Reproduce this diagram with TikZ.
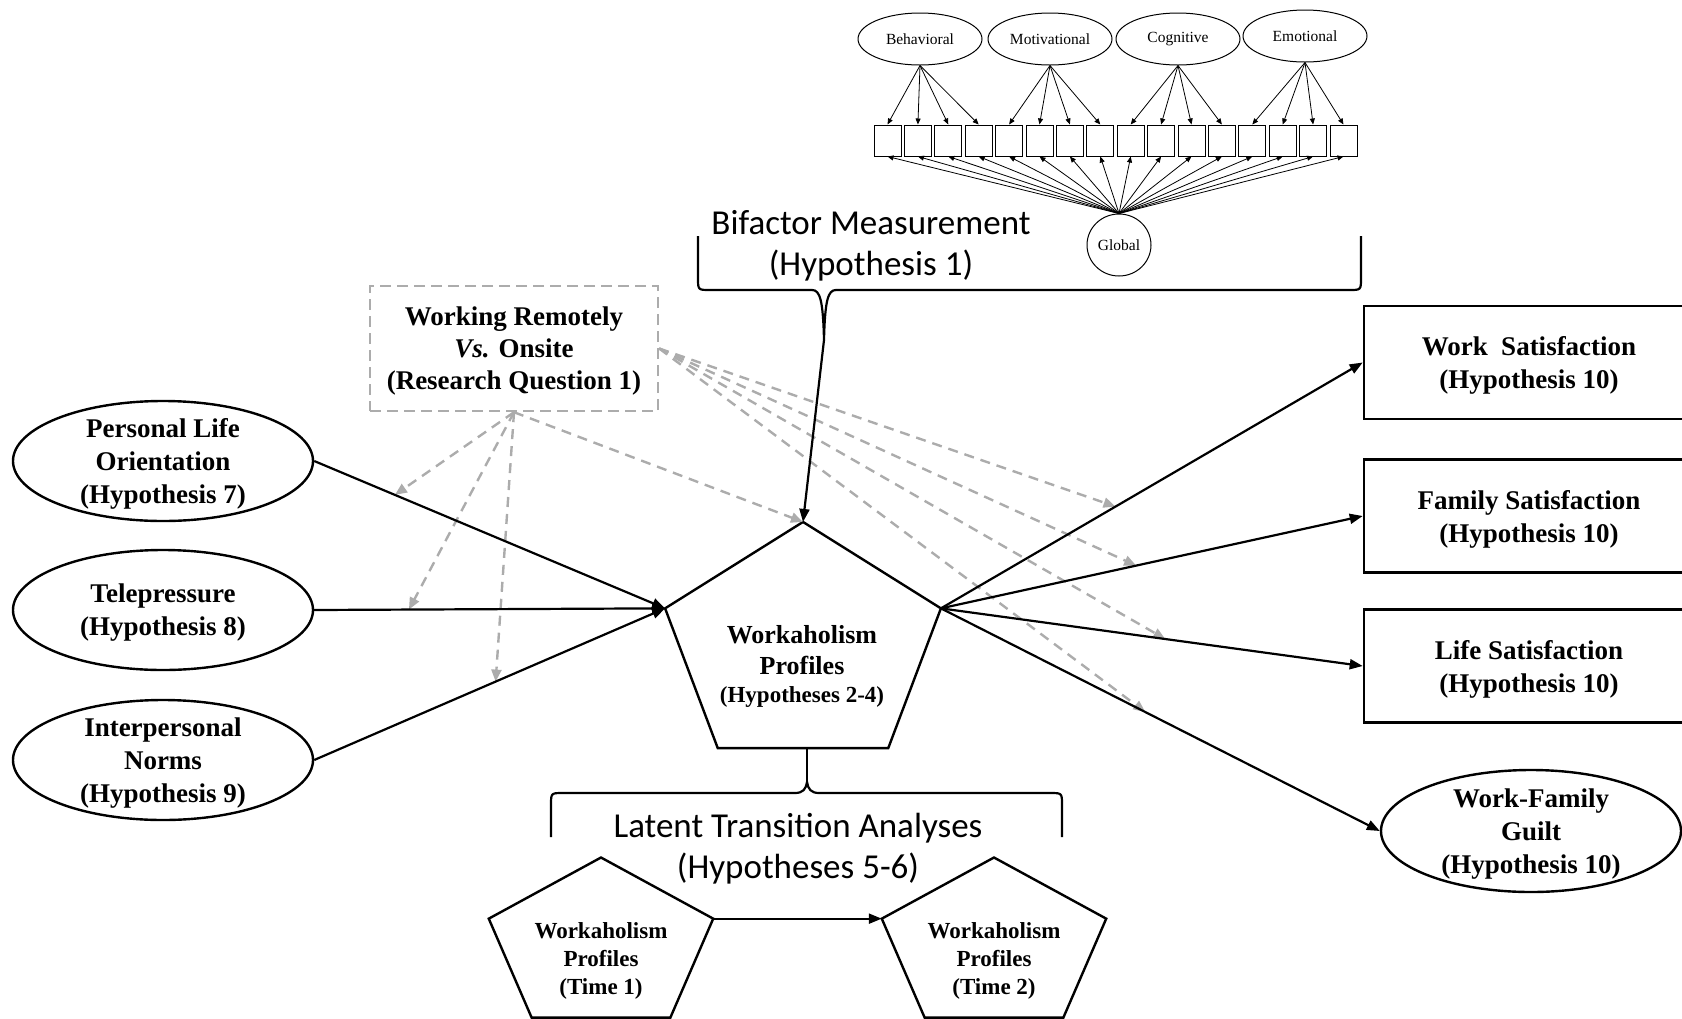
\documentclass[tikz,border=0pt]{standalone}
\usepackage{fontspec}
\setmainfont{Liberation Serif}
\newfontfamily\calibrifont{Carlito}
\usetikzlibrary{arrows.meta,shapes.geometric,positioning}

\tikzset{
  latent/.style={draw, ellipse, line width=2.4pt, minimum width=300pt, minimum height=120pt,
    inner sep=-10pt, align=center, text depth=0pt, font=\bfseries\fontsize{27}{33}\selectfont},
  outcome/.style={draw, rectangle, line width=2.6pt, minimum width=330pt, minimum height=113pt,
    align=center, text depth=0pt, font=\bfseries\fontsize{27}{33}\selectfont},
  moderator/.style={draw=gray!65, dash pattern=on 11pt off 6pt, line width=2.4pt,
    minimum width=288pt, minimum height=125pt, align=center, text depth=0pt,
    font=\bfseries\fontsize{27}{32}\selectfont},
  profile/.style={draw, regular polygon, regular polygon sides=5, line width=2.4pt,
    outer sep=0pt, inner sep=0pt},
  proftext/.style={align=center, text depth=0pt, font=\bfseries\fontsize{26}{31}\selectfont},
  factor/.style={draw, ellipse, line width=1pt, minimum width=124pt, minimum height=52pt,
    inner sep=0pt, font=\fontsize{15.5}{18}\selectfont},
  item/.style={draw, rectangle, line width=1pt, minimum width=27pt, minimum height=31pt, inner sep=0pt},
  effect/.style={->, line width=2.2pt},
  moderate/.style={-{Triangle[length=12pt,width=10pt]}, draw=gray!65, dash pattern=on 10pt off 7pt,
    line width=2.4pt},
  load/.style={-{Triangle[length=6pt,width=5pt]}, line width=0.8pt},
  brace/.style={line width=2.2pt},
  bracelabel/.style={align=center, text depth=0pt, font=\calibrifont\fontsize{35}{41}\selectfont},
}

\begin{document}
\begin{tikzpicture}[x=1pt, y=-1pt, >={Triangle[length=13pt,width=10pt]}]
    \useasboundingbox (0,0) rectangle (1682,1018);

    % bifactor measurement model
    \node[factor] (beh) at (920,39) {Behavioral};
    \node[factor] (mot) at (1050,39) {Motivational};
    \node[factor] (cog) at (1178,39) {Cognitive};
    \node[factor] (emo) at (1305,36) {Emotional};
    \foreach \i in {1,...,16}
        \node[item] (it\i) at ({887.5+30.4*(\i-1)},140.5) {};
    \node[factor, minimum width=64pt, minimum height=62pt] (glob) at (1119,245) {Global};

    \foreach \f/\a in {beh/0, mot/4, cog/8, emo/12}
        \foreach \k in {1,...,4} {
            \pgfmathtruncatemacro\n{\a+\k}
            \draw[load] (\f.south) -- (it\n.north);
        }
    \foreach \i in {1,...,16}
        \draw[load] (glob.north) -- (it\i.south);

    % brace above the profiles
    \coordinate (bftip) at (824,340);
    \draw[brace] (698,236) -- (698,278) .. controls (698,290) .. (710,290) -- (812,290)
        .. controls (820,290) and (823,300) .. (bftip)
        .. controls (825,300) and (828,290) .. (836,290) -- (1349,290)
        .. controls (1361,290) .. (1361,278) -- (1361,236);
    \node[bracelabel] (bflabel) at (871,243) {Bifactor Measurement\\(Hypothesis 1)};

    % predictors
    \node[latent] (plo) at (163,461) {Personal Life\\Orientation\\(Hypothesis 7)};
    \node[latent] (tele) at (163,610) {Telepressure\\(Hypothesis 8)};
    \node[latent] (norm) at (163,760) {Interpersonal\\Norms\\(Hypothesis 9)};

    \node[moderator] (remote) at (514,348.5) {Working Remotely\\\textit{Vs.} Onsite\\(Research Question 1)};

    % profiles
    \node[profile, minimum size=290pt, yscale=0.8625] (wp) at (803,647) {};
    \node[proftext] (wptext) at (802,664)
        {Workaholism\\Profiles\\[-3pt]{\fontsize{23}{28}\selectfont(Hypotheses 2-4)}};

    % outcomes
    \node[outcome] (wsat) at (1529,362.5) {Work\ \ Satisfaction\\(Hypothesis 10)};
    \node[outcome] (fsat) at (1529,516) {Family Satisfaction\\(Hypothesis 10)};
    \node[outcome] (lsat) at (1529,666) {Life Satisfaction\\(Hypothesis 10)};
    \node[latent, minimum height=122pt] (guilt) at (1531,831) {Work-Family\\Guilt\\(Hypothesis 10)};

    % latent transition
    \coordinate (ltatip) at (807,782);
    \draw[brace] (551,837) -- (551,805) .. controls (551,793) .. (563,793) -- (795,793)
        .. controls (803,793) and (806,789) .. (ltatip)
        .. controls (808,789) and (811,793) .. (819,793) -- (1050,793)
        .. controls (1062,793) .. (1062,805) -- (1062,837);
    \draw[brace] (ltatip) -- (ltatip |- wp.south);
    \node[bracelabel] (ltalabel) at (798,846) {Latent Transition Analyses\\(Hypotheses 5-6)};

    \node[profile, minimum size=236pt, yscale=0.75] (wp1) at (601,946) {};
    \node[profile, minimum size=236pt, yscale=0.75] (wp2) at (994,946) {};
    \node[proftext, font=\bfseries\fontsize{23}{28}\selectfont] (wp1text) at (601,959)
        {Workaholism\\Profiles\\(Time 1)};
    \node[proftext, font=\bfseries\fontsize{23}{28}\selectfont] (wp2text) at (994,959)
        {Workaholism\\Profiles\\(Time 2)};

    % points on the paths
    \path (plo.east) -- coordinate[pos=0.23] (m7) (wp.corner 2);
    \path (tele.east) -- coordinate[pos=0.27] (m8) (wp.corner 2);
    \path (norm.east) -- coordinate[pos=0.517] (m9) (wp.corner 2);
    \path (wp.corner 5) -- coordinate[pos=0.414] (mw) (wsat.west);
    \path (wp.corner 5) -- coordinate[pos=0.463] (mf) (fsat.west);
    \path (wp.corner 5) -- coordinate[pos=0.532] (ml) (lsat.west);
    \path (wp.corner 5) -- coordinate[pos=0.466] (mg) (guilt.west);

    \foreach \t in {m7, m8, m9, wp.corner 1}
        \draw[moderate] (remote.south) -- (\t);
    \foreach \t in {mw, mf, ml, mg}
        \draw[moderate] (remote.east) -- (\t);

    \foreach \s in {plo, tele, norm}
        \draw[effect] (\s.east) -- (wp.corner 2);
    \foreach \t in {wsat, fsat, lsat, guilt}
        \draw[effect] (wp.corner 5) -- (\t.west);
    \draw[effect] (bftip) -- (wp.corner 1);
    \draw[effect] (wp1.corner 5) -- (wp2.corner 2);
\end{tikzpicture}
\end{document}
